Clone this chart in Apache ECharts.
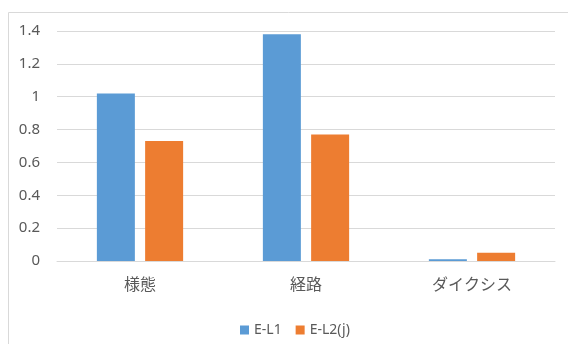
<!DOCTYPE html>
<html>
<head>
<meta charset="utf-8">
<script src="https://cdn.jsdelivr.net/npm/echarts@6/dist/echarts.min.js"></script>
<style>html,body{margin:0;padding:0;background:#fff;}#c{width:568px;height:344px;}</style>
</head>
<body>
<div id="c"></div>
<script>
const categories = ['様態', '経路', 'ダイクシス'];
const seriesNames = ['E-L1', 'E-L2(j)'];
const el1 = [1.02, 1.38, 0.01];
const el2 = [0.73, 0.77, 0.05];
const yTicks = [0, 0.2, 0.4, 0.6, 0.8, 1, 1.2, 1.4];

const chart = echarts.init(document.getElementById('c'), null, {renderer: 'canvas'});
const fontJP = '"Noto Sans CJK JP", "Noto Sans", sans-serif';
chart.setOption({
  animation: false,
  graphic: [{
    type: 'rect',
    shape: {x: 8.5, y: 12.5, width: 700, height: 500},
    style: {fill: 'none', stroke: '#D9D9D9', lineWidth: 1},
    silent: true
  }],
  grid: {left: 57, right: 13, top: 31, bottom: 83},
  legend: {
    data: seriesNames,
    left: 235, top: 318,
    itemWidth: 9, itemHeight: 9, itemGap: 14,
    icon: 'rect',
    textStyle: {color: '#595959', fontSize: 14, fontFamily: '"Noto Sans", sans-serif'}
  },
  xAxis: {
    type: 'category',
    data: categories,
    axisLine: {show: true, lineStyle: {color: '#D9D9D9', width: 1}},
    axisTick: {show: false},
    axisLabel: {color: '#595959', fontSize: 16, fontFamily: fontJP, margin: 15}
  },
  yAxis: {
    type: 'value',
    min: yTicks[0], max: yTicks[yTicks.length - 1], interval: 0.2,
    axisLine: {show: false},
    axisTick: {show: false},
    splitLine: {lineStyle: {color: '#D9D9D9', width: 1}},
    axisLabel: {
      color: '#595959', fontSize: 15, fontFamily: '"Noto Sans", sans-serif', margin: 17,
      formatter: v => String(Math.round(v * 10) / 10)
    }
  },
  series: [
    {name: seriesNames[0], type: 'bar', data: el1, barWidth: 38, barGap: '27%', itemStyle: {color: '#5B9BD5'}},
    {name: seriesNames[1], type: 'bar', data: el2, barWidth: 38, barGap: '27%', itemStyle: {color: '#ED7D31'}}
  ]
});
</script>
</body>
</html>
